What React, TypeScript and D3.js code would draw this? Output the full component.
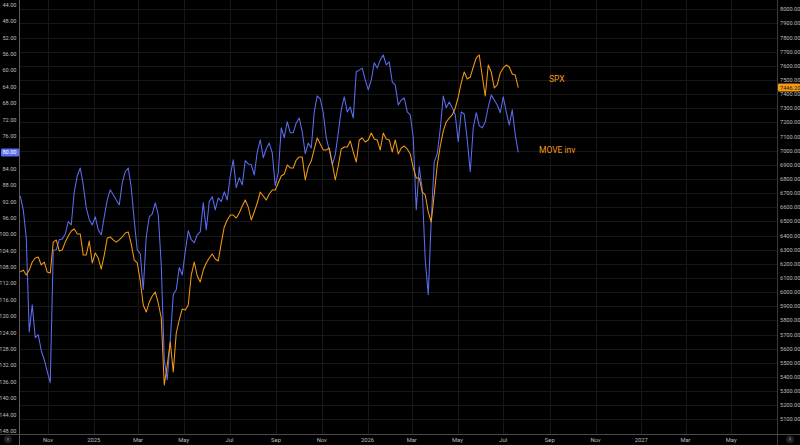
import { useEffect, useRef } from 'react';
import * as d3 from 'd3';

// sample dates (every 4 days)
const dates = [
  '2024-09-25', '2024-09-29', '2024-10-03', '2024-10-07', '2024-10-11', '2024-10-15', '2024-10-19', '2024-10-23', '2024-10-27', '2024-10-31',
  '2024-11-04', '2024-11-08', '2024-11-12', '2024-11-16', '2024-11-20', '2024-11-24', '2024-11-28', '2024-12-02', '2024-12-06', '2024-12-10',
  '2024-12-14', '2024-12-18', '2024-12-22', '2024-12-26', '2024-12-30',
  '2025-01-03', '2025-01-07', '2025-01-11', '2025-01-15', '2025-01-19', '2025-01-23', '2025-01-27', '2025-01-31',
  '2025-02-04', '2025-02-08', '2025-02-12', '2025-02-16', '2025-02-20', '2025-02-24', '2025-02-28',
  '2025-03-04', '2025-03-08', '2025-03-12', '2025-03-16', '2025-03-20', '2025-03-24', '2025-03-28',
  '2025-04-01', '2025-04-05', '2025-04-09', '2025-04-13', '2025-04-17', '2025-04-21', '2025-04-25', '2025-04-29',
  '2025-05-03', '2025-05-07', '2025-05-11', '2025-05-15', '2025-05-19', '2025-05-23', '2025-05-27', '2025-05-31',
  '2025-06-04', '2025-06-08', '2025-06-12', '2025-06-16', '2025-06-20', '2025-06-24', '2025-06-28',
  '2025-07-02', '2025-07-06', '2025-07-10', '2025-07-14', '2025-07-18', '2025-07-22', '2025-07-26', '2025-07-30',
  '2025-08-03', '2025-08-07', '2025-08-11', '2025-08-15', '2025-08-19', '2025-08-23', '2025-08-27', '2025-08-31',
  '2025-09-04', '2025-09-08', '2025-09-12', '2025-09-16', '2025-09-20', '2025-09-24', '2025-09-28',
  '2025-10-02', '2025-10-06', '2025-10-10', '2025-10-14', '2025-10-18', '2025-10-22', '2025-10-26', '2025-10-30',
  '2025-11-03', '2025-11-07', '2025-11-11', '2025-11-15', '2025-11-19', '2025-11-23', '2025-11-27',
  '2025-12-01', '2025-12-05', '2025-12-09', '2025-12-13', '2025-12-17', '2025-12-21', '2025-12-25', '2025-12-29',
  '2026-01-02', '2026-01-06', '2026-01-10', '2026-01-14', '2026-01-18', '2026-01-22', '2026-01-26', '2026-01-30',
  '2026-02-03', '2026-02-07', '2026-02-11', '2026-02-15', '2026-02-19', '2026-02-23', '2026-02-27',
  '2026-03-03', '2026-03-07', '2026-03-11', '2026-03-15', '2026-03-19', '2026-03-23', '2026-03-27', '2026-03-31',
  '2026-04-04', '2026-04-08', '2026-04-12', '2026-04-16', '2026-04-20', '2026-04-24', '2026-04-28',
  '2026-05-02', '2026-05-06', '2026-05-10', '2026-05-14', '2026-05-18', '2026-05-22', '2026-05-26', '2026-05-30',
  '2026-06-03', '2026-06-07', '2026-06-11', '2026-06-15', '2026-06-19', '2026-06-23', '2026-06-27',
  '2026-07-01', '2026-07-05', '2026-07-09', '2026-07-13', '2026-07-17', '2026-07-21',
];

const spxValues = [
  6142, 6156, 6121, 6156, 6213, 6241, 6248, 6192, 6213, 6142,
  6135, 6354, 6369, 6291, 6298, 6354, 6397, 6432, 6446, 6411,
  6411, 6262, 6262, 6361, 6206, 6277, 6241, 6163, 6262, 6383,
  6390, 6369, 6354, 6369, 6390, 6418, 6425, 6340, 6227, 6206,
  6079, 5909, 5859, 5930, 5973, 6001, 5923, 5817, 5343, 5485,
  5647, 5435, 5711, 5803, 5881, 5874, 5909, 6121, 6213, 6114,
  6072, 6156, 6206, 6241, 6270, 6234, 6220, 6347, 6461, 6510,
  6545, 6545, 6524, 6560, 6609, 6651, 6602, 6510, 6567, 6630,
  6708, 6680, 6651, 6694, 6722, 6722, 6772, 6821, 6835, 6899,
  6878, 6878, 6934, 6956, 6956, 6793, 6885, 6927, 7012, 7090,
  7047, 7005, 7005, 7019, 6913, 6793, 6892, 7012, 7026, 7026,
  7069, 6991, 6920, 7076, 7090, 7062, 7076, 7125, 7083, 7076,
  7005, 7125, 7083, 7076, 6991, 7076, 6977, 7019, 7033, 7012,
  6977, 6878, 6807, 6807, 6708, 6687, 6567, 6496, 6694, 6899,
  7033, 7139, 7203, 7231, 7253, 7302, 7380, 7479, 7557, 7507,
  7521, 7592, 7656, 7677, 7528, 7387, 7606, 7557, 7444, 7465,
  7550, 7585, 7606, 7592, 7543, 7535, 7446.2,
];

// MOVE index, plotted on an inverted scale
const moveValues = [
  90.6, 94.0, 100.8, 123.8, 117.2, 125.2, 124.5, 128.4, 130.6, 133.5,
  136.2, 103.8, 103.8, 101.3, 101.1, 99.9, 96.9, 97.7, 89.6, 85.7,
  83.8, 87.9, 93.5, 96.4, 97.7, 95.7, 98.9, 100.1, 95.7, 91.6,
  89.1, 90.3, 91.6, 92.8, 87.4, 84.7, 83.8, 88.6, 96.7, 103.8,
  104.7, 113.5, 100.6, 95.7, 95.0, 92.3, 95.2, 107.4, 130.6, 135.5,
  125.7, 114.7, 113.5, 108.1, 109.9, 104.2, 99.1, 101.3, 102.0, 100.1,
  99.4, 92.3, 98.9, 92.0, 90.8, 94.0, 91.1, 92.0, 89.6, 91.6,
  85.7, 81.8, 88.6, 86.2, 87.9, 82.0, 82.8, 83.0, 85.5, 79.9,
  76.9, 81.3, 79.1, 77.7, 80.1, 88.1, 85.0, 74.0, 76.4, 72.5,
  75.2, 75.2, 72.8, 71.6, 75.0, 80.3, 77.7, 78.9, 70.1, 66.2,
  66.9, 70.3, 76.4, 79.4, 83.0, 80.6, 75.2, 69.6, 66.4, 70.1,
  68.9, 71.6, 60.3, 59.9, 59.4, 62.3, 64.7, 62.3, 58.1, 59.4,
  57.4, 56.2, 58.6, 57.9, 62.8, 63.5, 68.4, 67.2, 66.7, 70.1,
  70.8, 76.4, 94.0, 83.5, 89.1, 106.2, 114.7, 96.4, 82.3, 80.3,
  74.2, 66.2, 69.1, 67.7, 69.1, 70.8, 77.4, 70.1, 70.6, 76.9,
  84.7, 74.0, 70.3, 73.5, 74.0, 72.5, 68.9, 66.0, 67.2, 68.4,
  70.3, 66.4, 70.1, 73.3, 69.6, 75.7, 80.0,
];

const leftTicks = [44, 48, 52, 56, 60, 64, 68, 72, 76, 80, 84, 88, 92, 96, 100, 104, 108, 112, 116, 120, 124, 128, 132, 136, 140, 144, 148];
const rightTicks = [
  5100, 5200, 5300, 5400, 5500, 5600, 5700, 5800, 5900, 6000, 6100, 6200, 6300, 6400, 6500,
  6600, 6700, 6800, 6900, 7000, 7100, 7200, 7300, 7400, 7500, 7600, 7700, 7800, 7900, 8000,
];
const seriesNames = ['SPX', 'MOVE inv'];

const SPX_COLOR = '#f59a12';
const MOVE_COLOR = '#5b6df0';
const FONT = 'Roboto, "Liberation Sans", sans-serif';

export default function App() {
  const svgRef = useRef<SVGSVGElement>(null);

  useEffect(() => {
    if (!svgRef.current) return;
    document.body.style.margin = '0';
    const svg = d3.select(svgRef.current);
    svg.selectAll('*').remove();

    const width = 800;
    const height = 445;
    const plot = { left: 20, right: 777, top: 0, bottom: 434 };

    const parse = d3.utcParse('%Y-%m-%d');
    const t = dates.map(d => parse(d) as Date);

    const x = d3.scaleUtc()
      .domain([parse('2024-09-25') as Date, parse('2027-06-30') as Date])
      .range([20.25, 776.25]);
    const yMove = d3.scaleLinear().domain([44, 148]).range([5, 431]);
    const ySpx = d3.scaleLinear().domain([5100, 8000]).range([419.4, 9.3]);

    svg.append('rect').attr('width', width).attr('height', height).attr('fill', '#000');

    svg.append('defs').append('clipPath').attr('id', 'plot-clip')
      .append('rect')
      .attr('x', plot.left).attr('y', plot.top)
      .attr('width', plot.right - plot.left).attr('height', plot.bottom - plot.top);

    // grid
    const grid = svg.append('g').attr('stroke', '#171717').attr('stroke-width', 1);
    const monthTicks = x.ticks(d3.utcMonth.every(2) as d3.TimeInterval)
      .filter(d => x(d) > plot.left && x(d) < plot.right);
    grid.selectAll('line.v')
      .data(monthTicks)
      .enter().append('line')
      .attr('x1', d => Math.round(x(d)) + 0.5).attr('x2', d => Math.round(x(d)) + 0.5)
      .attr('y1', plot.top).attr('y2', plot.bottom);
    grid.selectAll('line.h')
      .data(rightTicks)
      .enter().append('line')
      .attr('x1', plot.left).attr('x2', plot.right)
      .attr('y1', d => Math.round(ySpx(d)) + 0.5).attr('y2', d => Math.round(ySpx(d)) + 0.5);

    // series
    const lines = svg.append('g').attr('clip-path', 'url(#plot-clip)');
    const moveLine = d3.line<number>()
      .x((_, i) => x(t[i]))
      .y(d => yMove(d));
    const spxLine = d3.line<number>()
      .x((_, i) => x(t[i]))
      .y(d => ySpx(d));

    lines.append('path')
      .datum(moveValues)
      .attr('fill', 'none')
      .attr('stroke', MOVE_COLOR)
      .attr('stroke-width', 1.05)
      .attr('stroke-linejoin', 'round')
      .attr('d', moveLine);

    lines.append('path')
      .datum(spxValues)
      .attr('fill', 'none')
      .attr('stroke', SPX_COLOR)
      .attr('stroke-width', 1.05)
      .attr('stroke-linejoin', 'round')
      .attr('d', spxLine);

    // series names
    svg.append('text')
      .attr('x', 549).attr('y', 79).attr('dy', '0.35em')
      .attr('fill', SPX_COLOR).attr('font-family', FONT).attr('font-size', 8.5)
      .text(seriesNames[0]);
    svg.append('text')
      .attr('x', 539).attr('y', 150).attr('dy', '0.35em')
      .attr('fill', SPX_COLOR).attr('font-family', FONT).attr('font-size', 8.5)
      .text(seriesNames[1]);

    // axis borders
    svg.append('line')
      .attr('x1', 19.5).attr('x2', 19.5).attr('y1', 0).attr('y2', height)
      .attr('stroke', '#5c5c5c');
    svg.append('line')
      .attr('x1', 777.5).attr('x2', 777.5).attr('y1', 0).attr('y2', height)
      .attr('stroke', '#3a3a3a');
    svg.append('line')
      .attr('x1', 0).attr('x2', width).attr('y1', 434.5).attr('y2', 434.5)
      .attr('stroke', '#4a4a4a');

    // left axis (MOVE inv)
    svg.append('g')
      .selectAll('text')
      .data(leftTicks)
      .enter().append('text')
      .attr('x', 16.5).attr('y', d => yMove(d)).attr('dy', '0.35em')
      .attr('text-anchor', 'end')
      .attr('fill', '#bdbdbd').attr('font-family', FONT).attr('font-size', 5.6)
      .text(d => d3.format('.2f')(d));

    // right axis (SPX)
    svg.append('g')
      .selectAll('text')
      .data(rightTicks)
      .enter().append('text')
      .attr('x', 780).attr('y', d => ySpx(d)).attr('dy', '0.35em')
      .attr('fill', '#bdbdbd').attr('font-family', FONT).attr('font-size', 5.6)
      .text(d => d3.format('.2f')(d));

    // bottom axis
    svg.append('g')
      .selectAll('text')
      .data(monthTicks)
      .enter().append('text')
      .attr('x', d => x(d)).attr('y', 439.5).attr('dy', '0.35em')
      .attr('text-anchor', 'middle')
      .attr('fill', '#bdbdbd').attr('font-family', FONT).attr('font-size', 5.8)
      .text(d => d.getUTCMonth() === 0 ? d3.utcFormat('%Y')(d) : d3.utcFormat('%b')(d));

    // last value badges
    const lastMove = moveValues[moveValues.length - 1];
    const lastSpx = spxValues[spxValues.length - 1];
    const mb = svg.append('g').attr('transform', `translate(0,${yMove(lastMove)})`);
    mb.append('rect').attr('x', 1).attr('y', -4).attr('width', 18).attr('height', 8)
      .attr('rx', 1).attr('fill', MOVE_COLOR);
    mb.append('text').attr('x', 16.5).attr('dy', '0.35em').attr('text-anchor', 'end')
      .attr('fill', '#fff').attr('font-family', FONT).attr('font-size', 5.6)
      .text(d3.format('.2f')(lastMove));
    const sb = svg.append('g').attr('transform', `translate(0,${ySpx(lastSpx)})`);
    sb.append('rect').attr('x', 778).attr('y', -4).attr('width', 22).attr('height', 8)
      .attr('rx', 1).attr('fill', SPX_COLOR);
    sb.append('text').attr('x', 780).attr('dy', '0.35em')
      .attr('fill', '#1a1a1a').attr('font-family', FONT).attr('font-size', 5.6)
      .text(d3.format('.2f')(lastSpx));

    // corner buttons
    svg.append('circle').attr('cx', 8).attr('cy', 439.5).attr('r', 4).attr('fill', '#1e1e1e');
    svg.append('text').attr('x', 8).attr('y', 439.5).attr('dy', '0.35em').attr('text-anchor', 'middle')
      .attr('fill', '#888').attr('font-family', FONT).attr('font-size', 4.5).text('≡');
    svg.append('circle').attr('cx', 790).attr('cy', 439.5).attr('r', 4).attr('fill', '#1e1e1e');
    svg.append('text').attr('x', 790).attr('y', 439.5).attr('dy', '0.35em').attr('text-anchor', 'middle')
      .attr('fill', '#888').attr('font-family', FONT).attr('font-size', 4.5).text('A');
  }, []);

  return <svg ref={svgRef} width={800} height={445} style={{ display: 'block' }} />;
}
